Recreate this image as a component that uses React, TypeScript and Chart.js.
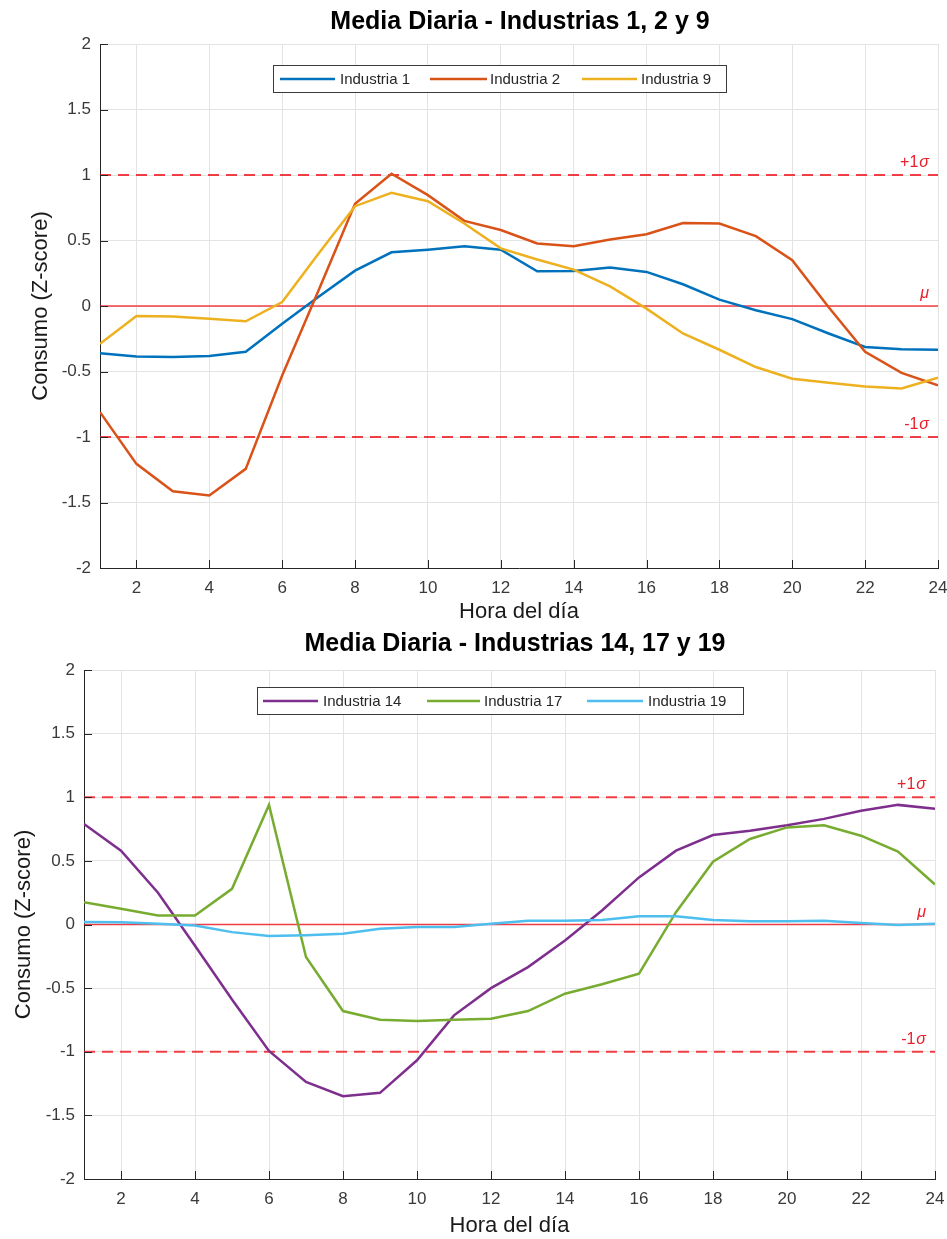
import React, { useEffect, useRef } from "react";
import { Chart, registerables } from "chart.js";

Chart.register(...registerables);

// Hours of the day and axis ticks
const hours = [1, 2, 3, 4, 5, 6, 7, 8, 9, 10, 11, 12, 13, 14, 15, 16, 17, 18, 19, 20, 21, 22, 23, 24];
const xTicks = [2, 4, 6, 8, 10, 12, 14, 16, 18, 20, 22, 24];
const yTicks = [-2, -1.5, -1, -0.5, 0, 0.5, 1, 1.5, 2];

// Mean daily z-score profiles
const industria1 = [-0.36, -0.385, -0.39, -0.382, -0.35, -0.135, 0.07, 0.27, 0.41, 0.43, 0.456, 0.43, 0.265, 0.268, 0.293, 0.26, 0.166, 0.049, -0.033, -0.1, -0.21, -0.313, -0.33, -0.334];
const industria2 = [-0.81, -1.205, -1.414, -1.447, -1.243, -0.53, 0.12, 0.78, 1.01, 0.846, 0.65, 0.58, 0.477, 0.456, 0.507, 0.548, 0.634, 0.63, 0.533, 0.35, -0.01, -0.35, -0.51, -0.606];
const industria9 = [-0.288, -0.076, -0.08, -0.097, -0.117, 0.03, 0.4, 0.762, 0.864, 0.8, 0.63, 0.44, 0.355, 0.278, 0.15, -0.02, -0.21, -0.334, -0.466, -0.555, -0.585, -0.614, -0.63, -0.547];

const industria14 = [0.79, 0.58, 0.25, -0.167, -0.59, -0.993, -1.237, -1.349, -1.323, -1.067, -0.714, -0.5, -0.335, -0.125, 0.11, 0.37, 0.58, 0.703, 0.737, 0.78, 0.83, 0.894, 0.94, 0.91];
const industria17 = [0.175, 0.123, 0.07, 0.07, 0.28, 0.94, -0.256, -0.68, -0.748, -0.758, -0.748, -0.74, -0.68, -0.544, -0.47, -0.387, 0.097, 0.494, 0.672, 0.763, 0.78, 0.698, 0.573, 0.314];
const industria19 = [0.02, 0.018, 0.005, -0.008, -0.06, -0.09, -0.084, -0.073, -0.034, -0.02, -0.02, 0.005, 0.03, 0.03, 0.035, 0.065, 0.065, 0.035, 0.025, 0.025, 0.03, 0.012, -0.003, 0.005];

// Reference levels: mean and +/- one standard deviation
const refLevels = [1, 0, -1];
const refLabels = ["+1", "", "-1"];

const FONT = "'Liberation Sans', Arial, Helvetica, sans-serif";
const AXIS = "#262626";
const GRID = "#e3e3e3";
const REF_RED = "rgba(240, 30, 40, 0.85)";

type Series = { label: string; values: number[]; color: string };

type PanelCfg = {
  top: number;
  height: number;
  title: string;
  titleX: number;
  titleY: number;
  left: number;
  right: number;
  plotTop: number;
  xAxisHeight: number;
  yTitlePad: number;
  series: Series[];
  legendBox: [number, number, number, number];
  legendItems: { x0: number; x1: number; tx: number }[];
};

const decorPlugin = {
  id: "decor",
  afterDatasetsDraw(chart: any, _args: any, opts: any) {
    const { ctx, chartArea, scales } = chart;
    const xs = scales.x;
    const ys = scales.y;
    ctx.save();

    // inward tick marks
    ctx.strokeStyle = AXIS;
    ctx.lineWidth = 1;
    ctx.beginPath();
    xs.ticks.forEach((t: any) => {
      const px = Math.round(xs.getPixelForValue(t.value)) + 0.5;
      ctx.moveTo(px, chartArea.bottom);
      ctx.lineTo(px, chartArea.bottom - 8);
    });
    ys.ticks.forEach((t: any) => {
      const py = Math.round(ys.getPixelForValue(t.value)) + 0.5;
      ctx.moveTo(chartArea.left, py);
      ctx.lineTo(chartArea.left + 8, py);
    });
    ctx.stroke();

    // reference level labels
    ctx.fillStyle = "#e8202a";
    ctx.textBaseline = "alphabetic";
    refLevels.forEach((lv, i) => {
      const py = ys.getPixelForValue(lv) - 8;
      const right = chartArea.right - 9;
      const greek = lv === 0 ? "μ" : "σ";
      ctx.font = `italic 16px ${FONT}`;
      const wg = ctx.measureText(greek).width;
      ctx.textAlign = "left";
      ctx.fillText(greek, right - wg, py);
      if (refLabels[i]) {
        ctx.font = `16px ${FONT}`;
        ctx.textAlign = "right";
        ctx.fillText(refLabels[i], right - wg - 1, py);
      }
    });

    // legend
    const [bx, by, bw, bh] = opts.legendBox;
    ctx.fillStyle = "#ffffff";
    ctx.fillRect(bx, by, bw, bh);
    ctx.strokeStyle = "#3a3a3a";
    ctx.lineWidth = 1;
    ctx.strokeRect(bx + 0.5, by + 0.5, bw - 1, bh - 1);
    const cy = by + bh / 2;
    opts.legendItems.forEach((it: any, i: number) => {
      const s = opts.series[i];
      ctx.strokeStyle = s.color;
      ctx.lineWidth = 2.5;
      ctx.beginPath();
      ctx.moveTo(it.x0, cy);
      ctx.lineTo(it.x1, cy);
      ctx.stroke();
      ctx.fillStyle = AXIS;
      ctx.font = `15px ${FONT}`;
      ctx.textAlign = "left";
      ctx.textBaseline = "middle";
      ctx.fillText(s.label, it.tx, cy + 1);
    });

    // title
    ctx.fillStyle = "#000000";
    ctx.font = `bold 25px ${FONT}`;
    ctx.textAlign = "center";
    ctx.textBaseline = "middle";
    ctx.fillText(opts.title, opts.titleX, opts.titleY);

    ctx.restore();
  },
};

function Panel({ cfg }: { cfg: PanelCfg }) {
  const ref = useRef<HTMLCanvasElement | null>(null);

  useEffect(() => {
    if (!ref.current) return;
    const datasets: any[] = cfg.series.map((s, i) => ({
      label: s.label,
      data: hours.map((h, k) => ({ x: h, y: s.values[k] })),
      borderColor: s.color,
      borderWidth: 2.5,
      pointRadius: 0,
      tension: 0,
      fill: false,
      order: cfg.series.length - i,
    }));
    refLevels.forEach((lv) => {
      datasets.push({
        label: `ref ${lv}`,
        data: [
          { x: hours[0], y: lv },
          { x: hours[hours.length - 1], y: lv },
        ],
        borderColor: REF_RED,
        borderWidth: lv === 0 ? 1.6 : 2,
        borderDash: lv === 0 ? [] : [11, 7],
        pointRadius: 0,
        fill: false,
        order: 10,
      });
    });

    const tickFont = { family: FONT, size: 17 };
    const chart = new Chart(ref.current, {
      type: "line",
      data: { datasets },
      options: {
        animation: false,
        responsive: false,
        maintainAspectRatio: false,
        layout: {
          padding: { left: 0, right: 947 - cfg.right, top: cfg.plotTop, bottom: 0 },
        },
        plugins: {
          legend: { display: false },
          title: { display: false },
          tooltip: { enabled: false },
          decor: {
            title: cfg.title,
            titleX: cfg.titleX,
            titleY: cfg.titleY,
            series: cfg.series,
            legendBox: cfg.legendBox,
            legendItems: cfg.legendItems,
          },
        } as any,
        scales: {
          x: {
            type: "linear",
            min: 1,
            max: 24,
            afterBuildTicks: (s: any) => {
              s.ticks = xTicks.map((v) => ({ value: v }));
            },
            afterFit: (s: any) => {
              s.height = cfg.xAxisHeight;
              s.paddingLeft = 0;
              s.paddingRight = 0;
            },
            grid: { color: GRID, lineWidth: 1, drawTicks: false },
            border: { color: AXIS, width: 1 },
            ticks: { font: tickFont, color: "#3a3a3a", padding: 10, maxRotation: 0, callback: (v: any) => `${v}` },
            title: {
              display: true,
              text: "Hora del día",
              color: "#1a1a1a",
              font: { family: FONT, size: 22 },
              padding: { top: 0, bottom: 0 },
            },
          },
          y: {
            type: "linear",
            min: -2,
            max: 2,
            afterBuildTicks: (s: any) => {
              s.ticks = yTicks.map((v) => ({ value: v }));
            },
            afterFit: (s: any) => {
              s.width = cfg.left;
              s.paddingTop = 0;
              s.paddingBottom = 0;
            },
            grid: { color: GRID, lineWidth: 1, drawTicks: false },
            border: { color: AXIS, width: 1 },
            ticks: { font: tickFont, color: "#3a3a3a", padding: 9, callback: (v: any) => `${v}` },
            title: {
              display: true,
              text: "Consumo (Z-score)",
              color: "#1a1a1a",
              font: { family: FONT, size: 22 },
              padding: { top: cfg.yTitlePad, bottom: 0 },
            },
          },
        },
      },
      plugins: [decorPlugin],
    });
    return () => chart.destroy();
  }, [cfg]);

  return (
    <canvas
      ref={ref}
      width={947}
      height={cfg.height}
      style={{ position: "absolute", left: 0, top: cfg.top, width: 947, height: cfg.height, display: "block" }}
    />
  );
}

const panelA: PanelCfg = {
  top: 0,
  height: 625,
  title: "Media Diaria - Industrias 1, 2 y 9",
  titleX: 520,
  titleY: 22,
  left: 100,
  right: 938,
  plotTop: 44,
  xAxisHeight: 57,
  yTitlePad: 28,
  series: [
    { label: "Industria 1", values: industria1, color: "#0072BD" },
    { label: "Industria 2", values: industria2, color: "#D95319" },
    { label: "Industria 9", values: industria9, color: "#EDB120" },
  ],
  legendBox: [273, 65, 454, 28],
  legendItems: [
    { x0: 280, x1: 335, tx: 340 },
    { x0: 430, x1: 487, tx: 490 },
    { x0: 582, x1: 637, tx: 641 },
  ],
};

const panelB: PanelCfg = {
  top: 625,
  height: 614,
  title: "Media Diaria - Industrias 14, 17 y 19",
  titleX: 515,
  titleY: 19,
  left: 84,
  right: 935,
  plotTop: 45,
  xAxisHeight: 60,
  yTitlePad: 11,
  series: [
    { label: "Industria 14", values: industria14, color: "#7E2F8E" },
    { label: "Industria 17", values: industria17, color: "#77AC30" },
    { label: "Industria 19", values: industria19, color: "#4DBEEE" },
  ],
  legendBox: [257, 62, 487, 28],
  legendItems: [
    { x0: 263, x1: 318, tx: 323 },
    { x0: 427, x1: 480, tx: 484 },
    { x0: 587, x1: 643, tx: 648 },
  ],
};

export default function App() {
  return (
    <div style={{ position: "absolute", left: 0, top: 0, width: 947, height: 1239, background: "#ffffff" }}>
      <Panel cfg={panelA} />
      <Panel cfg={panelB} />
    </div>
  );
}
